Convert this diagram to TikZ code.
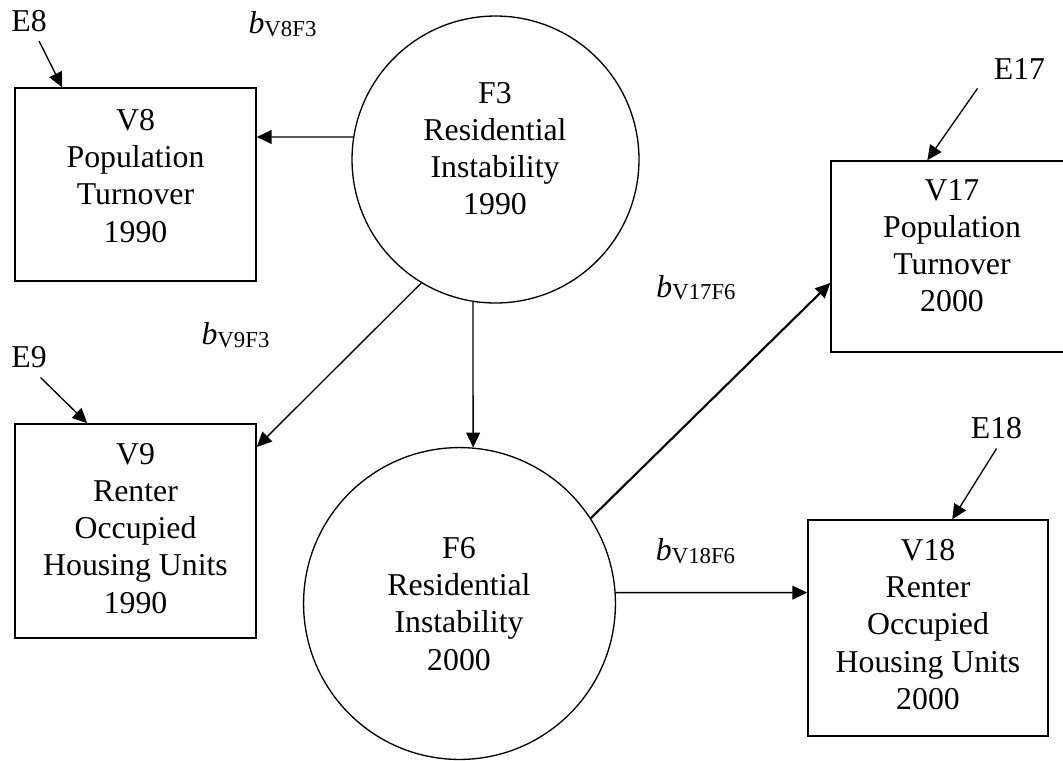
\documentclass[tikz,border=0pt]{standalone}
\usepackage{fontspec}
\setmainfont{Liberation Serif}
\usetikzlibrary{arrows.meta}

\newcommand{\coef}[1]{\textit{b}\raisebox{-1pt}{\fontsize{8.6}{10}\selectfont #1}}

\tikzset{
  obsbox/.style={draw,line width=0.55pt,inner sep=0pt},
  latent/.style={circle,draw,line width=0.5pt,inner sep=0pt},
  vartext/.style={align=center,inner sep=0pt},
  path/.style={->,line width=0.5pt},
}

\begin{document}
\begin{tikzpicture}[x=0.3774pt,y=-0.3774pt,>={Triangle[length=5.6pt,width=5.2pt]},
  every node/.append style={font=\fontsize{12}{14}\selectfont}]
  \useasboundingbox (0,0) rectangle (1063,760);
  % latent factors
  \node[latent,minimum size=108.3pt] (f3) at (495.5,159.5) {};
  \node[latent,minimum size=117.7pt] (f6) at (459.5,603.5) {};
  \node[vartext] (f3t) at (495,148.5) {F3\\Residential\\Instability\\1990};
  \node[vartext] (f6t) at (459,604) {F6\\Residential\\Instability\\2000};
  % observed variables
  \node[obsbox,minimum width=91pt,minimum height=72.8pt] (v8) at (135.5,184.5) {};
  \node[obsbox,minimum width=91pt,minimum height=80.8pt] (v9) at (135.5,531) {};
  \node[obsbox,minimum width=91.3pt,minimum height=72.1pt] (v17) at (952,256.5) {};
  \node[obsbox,minimum width=90.6pt,minimum height=81.5pt] (v18) at (928,628) {};
  \node[vartext] (v8t) at (135.5,176) {V8\\Population\\Turnover\\1990};
  \node[vartext] (v9t) at (135.5,528.5) {V9\\Renter\\Occupied\\Housing Units\\1990};
  \node[vartext] (v17t) at (952,246) {V17\\Population\\Turnover\\2000};
  \node[vartext] (v18t) at (928,624.5) {V18\\Renter\\Occupied\\Housing Units\\2000};
  % errors
  \node (e8) at (29,21) {E8};
  \node (e9) at (29,357.5) {E9};
  \node (e17) at (1019.5,68.5) {E17};
  \node (e18) at (996.5,428.5) {E18};
  % coefficients
  \node (b8) at (282.5,24) {\coef{V8F3}};
  \node (b9) at (235.5,335) {\coef{V9F3}};
  \node (b17) at (696,287.5) {\coef{V17F6}};
  \node (b18) at (695.5,551) {\coef{V18F6}};

  \draw[path] (f3.171) -- ([shift={(0,-47.5)}]v8.east);
  \draw[path] (f3.239) -- ([shift={(0,-84)}]v9.east);
  \draw[path] (f3.261) -- (f6.85);
  \draw[path,line width=0.8pt] (f6.33) -- ([shift={(0,26.5)}]v17.west);
  \draw[path] (f6.4) -- ([shift={(0,-35.4)}]v18.west);

  \draw[path] (e8) -- ([shift={(48,0)}]v8.north west);
  \draw[path] (e9.-60) -- ([shift={(73,0)}]v9.north west);
  \draw[path] ([shift={(-7,0)}]e17.south west) -- ([shift={(97,0)}]v17.north west);
  \draw[path] (e18.south) -- ([shift={(145,0)}]v18.north west);
\end{tikzpicture}
\end{document}
